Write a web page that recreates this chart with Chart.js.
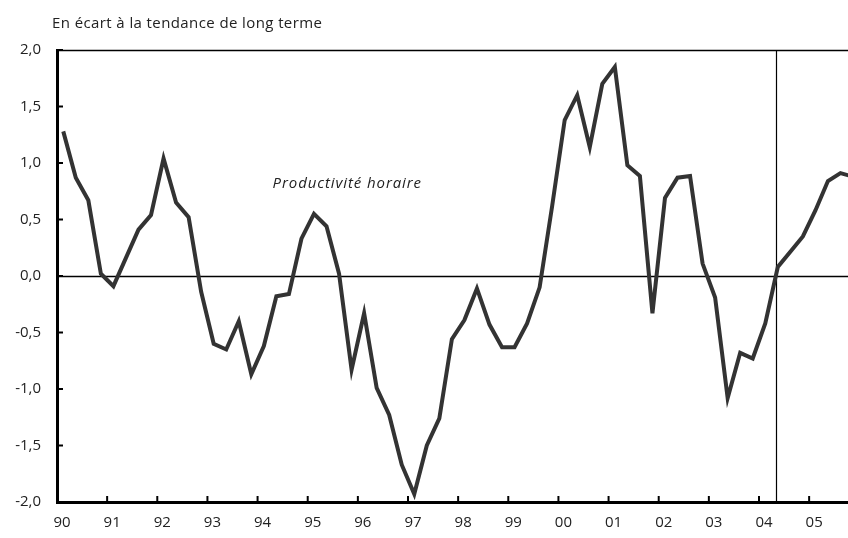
<!DOCTYPE html>
<html>
<head>
<meta charset="utf-8">
<script src="https://cdn.jsdelivr.net/npm/chart.js@4.4.0/dist/chart.umd.min.js"></script>
<style>
  html, body { margin: 0; padding: 0; background: #fff; overflow: hidden; }
  #wrap { width: 848px; height: 538px; }
</style>
</head>
<body>
<div id="wrap"><canvas id="lineChart"></canvas></div>
<script>
// Quarterly series, 1990 Q1 onwards (deviation from long-term trend)
var startYear = 1990;
var productivite = [
  1.28, 0.87, 0.67, 0.02,
  -0.09, 0.16, 0.41, 0.54,
  1.04, 0.65, 0.52, -0.14,
  -0.60, -0.65, -0.40, -0.87,
  -0.62, -0.18, -0.16, 0.33,
  0.55, 0.44, 0.02, -0.83,
  -0.33, -0.99, -1.23, -1.67,
  -1.93, -1.50, -1.26, -0.56,
  -0.39, -0.11, -0.43, -0.63,
  -0.63, -0.42, -0.10, 0.62,
  1.38, 1.60, 1.14, 1.70,
  1.85, 0.98, 0.885, -0.33,
  0.69, 0.87, 0.885, 0.11,
  -0.19, -1.08, -0.68, -0.73,
  -0.42, 0.08, 0.215, 0.35,
  0.58, 0.84, 0.91, 0.88
];
var yearTicks = [1990, 1991, 1992, 1993, 1994, 1995, 1996, 1997,
                 1998, 1999, 2000, 2001, 2002, 2003, 2004, 2005];
var yTicks = [-2.0, -1.5, -1.0, -0.5, 0.0, 0.5, 1.0, 1.5, 2.0];
var forecastStart = 2004.33;
var titleText = "En écart à la tendance de long terme";
var seriesLabel = "Productivité horaire";

var FONT = "'Open Sans', 'DejaVu Sans', sans-serif";

// one point per quarter, placed at mid-quarter
var points = productivite.map(function (v, i) {
  return { x: startYear + Math.floor(i / 4) + ((i % 4) + 0.5) / 4, y: v };
});

function fmt(v) {
  return v.toFixed(1).replace(".", ",");
}

// inward ticks, zero line, top border, vertical marker and texts
var decorations = {
  id: "decorations",
  beforeDatasetsDraw: function (chart) {
    var c = chart.ctx, a = chart.chartArea;
    var xs = chart.scales.x, ys = chart.scales.y;
    c.save();
    c.strokeStyle = "#000";
    // zero line
    c.lineWidth = 1.5;
    var y0 = Math.round(ys.getPixelForValue(0)) + 0.5;
    c.beginPath(); c.moveTo(a.left, y0); c.lineTo(a.right, y0); c.stroke();
    // top border
    var yt = a.top + 0.5;
    c.beginPath(); c.moveTo(a.left, yt); c.lineTo(a.right, yt); c.stroke();
    // vertical marker
    c.lineWidth = 1.2;
    var xv = Math.round(xs.getPixelForValue(forecastStart)) + 0.5;
    c.beginPath(); c.moveTo(xv, a.top); c.lineTo(xv, a.bottom); c.stroke();
    // inward ticks
    c.lineWidth = 2;
    yTicks.forEach(function (t) {
      var py = ys.getPixelForValue(t);
      c.beginPath(); c.moveTo(a.left, py); c.lineTo(a.left + 6, py); c.stroke();
    });
    yearTicks.forEach(function (t) {
      if (t === startYear) return;
      var px = xs.getPixelForValue(t);
      c.beginPath(); c.moveTo(px, a.bottom); c.lineTo(px, a.bottom - 6); c.stroke();
    });
    c.restore();
  },
  afterDraw: function (chart) {
    var c = chart.ctx;
    var xs = chart.scales.x, ys = chart.scales.y;
    c.save();
    c.fillStyle = "#222";
    c.textBaseline = "middle";
    c.textAlign = "left";
    c.font = "15px " + FONT;
    c.letterSpacing = "0.4px";
    c.fillText(titleText, 52, 24);
    c.font = "italic 15px " + FONT;
    c.letterSpacing = "0.9px";
    c.fillText(seriesLabel, xs.getPixelForValue(1994.3), ys.getPixelForValue(0.82));
    c.restore();
  }
};

document.addEventListener("DOMContentLoaded", function () {
  var ctx = document.getElementById("lineChart").getContext("2d");
  var lineChart = new Chart(ctx, {
    type: "line",
    data: {
      datasets: [{
        label: seriesLabel,
        data: points,
        borderColor: "#333333",
        borderWidth: 4,
        pointRadius: 0,
        tension: 0,
        fill: false
      }]
    },
    options: {
      responsive: true,
      maintainAspectRatio: false,
      animation: false,
      layout: { padding: { top: 50, left: 0, right: 0, bottom: 0 } },
      plugins: {
        legend: { display: false },
        tooltip: { enabled: false }
      },
      scales: {
        x: {
          type: "linear",
          min: startYear,
          max: 2005.775,
          afterBuildTicks: function (scale) {
            scale.ticks = yearTicks.map(function (v) { return { value: v }; });
          },
          afterFit: function (scale) {
            scale.height = 36;
            scale.paddingLeft = 0;
            scale.paddingRight = 0;
          },
          grid: { display: true, drawOnChartArea: false, drawTicks: false },
          border: { display: true, color: "#000", width: 3 },
          ticks: {
            autoSkip: false,
            maxRotation: 0,
            padding: 12,
            labelOffset: 5,
            color: "#222",
            font: { family: FONT, size: 15 },
            callback: function (v) { return String(v).slice(2); }
          }
        },
        y: {
          min: -2,
          max: 2,
          afterBuildTicks: function (scale) {
            scale.ticks = yTicks.map(function (v) { return { value: v }; });
          },
          afterFit: function (scale) {
            scale.width = 57;
          },
          grid: { display: true, drawOnChartArea: false, drawTicks: false },
          border: { display: true, color: "#000", width: 3 },
          ticks: {
            padding: 16,
            color: "#222",
            font: { family: FONT, size: 15 },
            callback: function (v) { return fmt(v); }
          }
        }
      }
    },
    plugins: [decorations]
  });
});
</script>
</body>
</html>
